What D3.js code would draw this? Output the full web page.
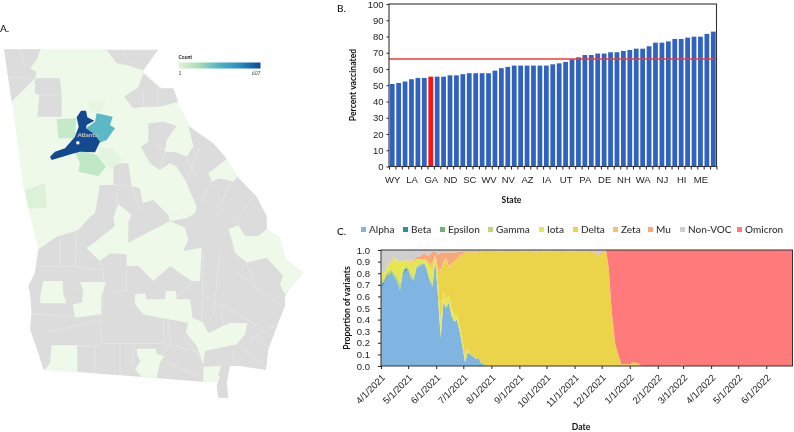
<!DOCTYPE html>
<html>
<head>
<meta charset="utf-8">
<script src="https://cdn.jsdelivr.net/npm/d3@7"></script>
<style>
  html, body { margin: 0; background: #fff; }
  svg { display: block; filter: blur(0.5px); font-family: Lato, "Open Sans", sans-serif; }
  .axis path { display: none; }
  .axis line { stroke: #222; stroke-width: 1; }
  .axis text { font-size: 9.5px; font-weight: 500; fill: #222; }
  .title { font-size: 8.6px; font-weight: 700; fill: #111; text-anchor: middle; }
  .panel { font-size: 10px; font-weight: 500; fill: #111; }
</style>
</head>
<body>
<div id="chart"></div>
<script>
// Panel A: county shapes, in a 960x1296 map grid
const stateOutline = [[12,148],[474,148],[430,215],[530,300],[570,378],[675,470],[712,530],[770,590],[800,648],[800,688],[840,713],[855,778],[910,818],[870,863],[855,888],[855,918],[835,968],[805,1048],[798,1110],[720,1098],[690,1098],[680,1148],[685,1193],[655,1193],[650,1158],[660,1128],[610,1145],[130,1108],[118,1068],[90,988],[95,938],[90,878],[85,858],[105,818],[115,748],[90,648],[70,560],[35,300]];
const noDataCounties = [
  [[12,148],[122,148],[110,180],[90,205],[110,215],[105,235],[35,305]],
  [[105,235],[180,235],[185,290],[185,350],[112,350],[118,285],[105,280]],
  [[320,150],[474,150],[430,210],[410,205],[380,195],[350,190]],
  [[430,220],[480,265],[520,265],[535,305],[480,320],[430,320],[400,325],[372,290],[415,262]],
  [[115,748],[170,710],[235,690],[270,650],[285,640],[300,555],[340,555],[340,490],[385,490],[395,558],[420,565],[428,610],[460,600],[505,645],[585,640],[590,620],[555,540],[530,500],[510,490],[480,510],[450,490],[422,440],[445,425],[445,370],[490,365],[530,378],[500,420],[495,455],[525,455],[560,470],[580,440],[565,378],[640,430],[675,470],[712,530],[770,590],[800,648],[800,688],[840,713],[855,778],[910,818],[870,863],[855,888],[855,918],[835,968],[805,1048],[798,1110],[720,1098],[690,1098],[680,1148],[685,1193],[655,1193],[650,1158],[660,1128],[610,1145],[130,1108],[118,1068],[90,988],[95,938],[90,878],[85,858],[105,818]]
];
const lowCountCounties = [
  [[625,520],[680,478],[712,530],[700,545],[660,535],[635,545]],
  [[505,420],[530,380],[565,380],[580,440],[560,462],[525,455],[495,450]],
  [[505,645],[585,640],[560,655],[530,660],[510,663]],
  [[258,743],[270,738],[345,678],[340,655],[355,612],[395,645],[385,665],[385,728],[510,663],[555,683],[565,718],[550,753],[605,743],[600,843],[575,843],[510,798],[460,843],[415,798],[380,798],[380,763],[330,760],[300,783]],
  [[685,688],[715,676],[735,708],[775,708],[800,688],[840,713],[855,778],[910,818],[870,863],[855,883],[840,853],[850,828],[800,773],[740,788],[705,758],[695,718]],
  [[130,843],[188,843],[190,883],[200,910],[120,910],[122,878]],
  [[240,846],[318,846],[305,883],[303,943],[225,953],[218,913],[245,908],[250,873]],
  [[405,883],[435,880],[440,898],[495,898],[498,873],[528,873],[530,898],[570,898],[578,953],[610,968],[625,1000],[690,968],[742,970],[735,1003],[710,1033],[615,1053],[610,1093],[590,1038],[558,998],[565,968],[480,953],[430,943],[405,913]],
  [[410,1046],[468,1046],[470,1063],[493,1068],[480,1088],[470,1133],[428,1133],[405,1108],[422,1083],[412,1068]],
  [[155,1036],[232,1036],[232,1118],[135,1110],[150,1088]],
  [[610,1100],[663,1098],[650,1146],[610,1145]]
];
const countyCounts = [
  { count: 14, shape: [[262,302],[315,300],[305,335],[270,340]] },
  { count: 50, shape: [[170,358],[230,355],[225,390],[235,415],[175,415]] },
  { count: 18, shape: [[300,440],[335,445],[365,475],[360,490],[330,505],[295,470]] },
  { count: 55, shape: [[225,458],[255,455],[290,465],[318,500],[295,528],[235,515],[240,490]] },
  { count: 28, shape: [[75,570],[135,550],[140,625],[85,625]] },
  { count: 260, shape: [[290,340],[338,350],[330,375],[345,385],[320,420],[295,430],[280,400],[258,385],[285,365]] },
  { count: 607, shape: [[243,332],[258,332],[262,352],[283,362],[260,375],[258,385],[280,400],[300,425],[285,457],[240,455],[215,462],[155,480],[150,470],[165,455],[195,445],[225,410],[236,380],[230,352]] }
];
const countyLines = [
  [[30,232],[105,235]], [[60,148],[75,205]], [[118,285],[185,285]], [[430,262],[430,320]], [[475,265],[475,320]],
  [[370,150],[395,205]], [[455,425],[500,455]], [[495,455],[480,510]], [[560,470],[590,530]], [[600,440],[560,540]],
  [[640,530],[600,610]], [[690,545],[650,650]], [[760,590],[700,670]], [[340,555],[395,558]], [[355,560],[345,640]],
  [[420,630],[395,560]], [[180,712],[180,800]], [[105,800],[180,800],[225,800],[310,810]], [[230,690],[225,800]],
  [[270,730],[310,810]], [[310,810],[310,920],[300,950]], [[380,798],[380,870],[340,880]], [[225,870],[250,870]],
  [[95,940],[225,950]], [[130,1000],[300,960],[305,1030]], [[305,1030],[490,1030]], [[230,1036],[300,1040]],
  [[285,1040],[285,1118]], [[360,1030],[360,1125]], [[405,1030],[395,1100]], [[460,1100],[510,1030],[505,960]],
  [[490,960],[490,1030],[610,1060]], [[555,1010],[610,1090]], [[505,1090],[605,1130]], [[610,760],[605,990]],
  [[660,750],[640,950]], [[600,880],[780,980]], [[665,920],[670,980]], [[700,810],[850,920]], [[740,790],[780,890]],
  [[700,1050],[700,1095]], [[745,1000],[810,1045]], [[720,1040],[800,1105]], [[835,970],[750,1020]], [[590,840],[530,890]]
];
const legendCounts = [1, 607];
const gradientStops = ['#e0f3db', '#a8ddb5', '#4eb3c9', '#2b8cbe', '#0a4a97'];

// Panel B: states ordered by percent vaccinated
const stateTickLabels = ['WY','LA','GA','ND','SC','WV','NV','AZ','IA','UT','PA','DE','NH','WA','NJ','HI','ME'];
const percentVaccinated = [50.8,51.4,52.3,53.7,54.5,54.5,55.3,55.3,55.3,56.1,56.1,56.8,57.4,57.4,57.4,57.4,59,60.5,61.3,62.1,62.1,62.1,62.1,62.1,62.1,62.9,63.5,64.3,66,67.2,68.6,68.6,69.5,69.5,70.3,70.3,71.1,71.7,72.5,72.5,74,76.2,76.2,77,78.5,78.5,79.3,79.9,79.9,81.6,83];
const georgiaIndex = 6;
const nationalPercent = 66.2;

// Panel C: variant proportions, sampled by days since 4/1/2021
const variantNames = ['Alpha','Beta','Epsilon','Gamma','Iota','Delta','Zeta','Mu','Non-VOC','Omicron'];
const variantColors = ['#7fb5e0','#2f8f9f','#6fb26f','#b9d67a','#e6e650','#ebd34a','#f7c177','#f7a878','#cfcfcf','#ff7b7b'];
const sampleDays = [0,3,6,9,12,15,18,21,24,27,30,33,36,39,42,45,48,51,54,57,60,63,66,69,72,75,78,81,84,87,90,93,96,99,102,105,108,111,114,117,130,145,160,170,180,195,210,225,235,241,244,247,249,252,255,259,262,266,270,274,279,285,288,330,333,336,455];
const alpha = [.68,.70,.76,.78,.80,.76,.72,.65,.78,.82,.83,.76,.72,.84,.86,.87,.885,.82,.72,.68,.92,.60,.24,.55,.50,.55,.42,.38,.40,.30,.17,.03,.12,.10,.08,.06,.07,.02,.015];
const beta = [.01,.02,.01,0,.01,0,0,0,.01,.02,0,0,.01,0,0,0,0,0,.01,0,0,0,0,0,0,0,.01];
const epsilon = [.01,.01,.01,.01,0,.01,.01,.01,.01,0,.01,.01];
const gamma = [.03,.02,.02,.03,.02,.03,.04,.05,.03,.02,.02,.03,.03,.02,.02,.01,.01,.02,.02,.03,0,.02,.02,.01,.01,.01,.01,.01];
const iota = [.11,.04,.04,.07,.06,.14,.13,.19,.07,.06,.03,.11,.14,.06,.04,.03,.02,.05,.10,.12,.02,.10,.10,.08,.06,.05,.06,.05,.05,.04,.05,.05,.03];
const delta = [0,0,0,0,0,0,0,0,0,0,0,0,0,0,0,.01,.01,.02,.03,.05,.02,.10,.46,.25,.35,.24,.37,.46,.47,.62,.74,.90,.84,.88,.90,.92,.91,.97,.975,.985,.99,.985,.99,.98,.99,.985,.99,.985,.98,.95,.975,.99,.995,.83,.48,.19,.11,.01,.02,.01,.035,.02,0,0,.012,0,0];
const zeta = [0,0,0,0,.01,0,.01,0,0,0,0,.01,0,0,0,0,0,0,0,.01,0,.02,.01,.01,.01,.01,.01];
const mu = [0,0,0,0,0,0,0,0,0,.01,0,0,.01,.02,.02,.04,.05,.04,.08,.10,.03,.12,.15,.08,.05,.12,.10,.08,.06,.03,.03,.01,.005,.01,.01,.01,.01,.005,.005,.01,.005,.005,.005,.005,.005,.005,.005,.005,.01,.01,.015,.005];
const nonVoc = [.16,.21,.16,.11,.10,.06,.09,.10,.10,.07,.11,.08,.09,.06,.06,.04,.025,.05,.04,.01,.01,.04,.02,.02,.02,.02,.02,.02,.02,.01,.01,.01,.005,.01,.01,.01,.01,.005,.005,.005,.005,.01,.005,.015,.005,.01,.005,.01,.01,.04,.01,.005];
const omicron = [0,0,0,0,0,0,0,0,0,0,0,0,0,0,0,0,0,0,0,0,0,0,0,0,0,0,0,0,0,0,0,0,0,0,0,0,0,0,0,0,0,0,0,0,0,0,0,0,0,0,0,0,.005,.17,.52,.81,.89,.99,.98,.99,.965,.98,1,1,.988,1,1];
const variantValues = [alpha, beta, epsilon, gamma, iota, delta, zeta, mu, nonVoc, omicron];
const monthTicks = ['2021-04-01','2021-05-01','2021-06-01','2021-07-01','2021-08-01','2021-09-01','2021-10-01','2021-11-01','2021-12-01','2022-01-01','2022-02-01','2022-03-01','2022-04-01','2022-05-01','2022-06-01'];
const lastDay = '2022-06-30';

const svg = d3.select('#chart').append('svg').attr('width', 794).attr('height', 432);
const defs = svg.append('defs');

/* ---- A. map ---- */
const mapX = d3.scaleLinear().domain([0, 960]).range([0, 320]);
const mapY = d3.scaleLinear().domain([0, 1296]).range([0, 432]);
const mapLine = d3.line().x(d => mapX(d[0])).y(d => mapY(d[1])).curve(d3.curveLinearClosed);
const openLine = d3.line().x(d => mapX(d[0])).y(d => mapY(d[1]));
const countColour = d3.scaleLinear().domain([1, 28, 55, 260, 607])
  .range(['#eff9e9', '#dcf2d8', '#bfe8c6', '#5ab9c5', '#14488f']);

// county borders only show on the grey counties
defs.append('clipPath').attr('id', 'noDataClip')
  .selectAll('path').data(noDataCounties).enter().append('path').attr('d', mapLine);

const map = svg.append('g').attr('class', 'map');
map.append('path').attr('d', mapLine(stateOutline)).attr('fill', '#eff9e9');
map.selectAll('.nodata').data(noDataCounties).enter().append('path')
  .attr('class', 'nodata').attr('d', mapLine).attr('fill', '#dcdcdc');
map.append('g').attr('clip-path', 'url(#noDataClip)')
  .selectAll('path').data(countyLines).enter().append('path')
  .attr('d', openLine).attr('fill', 'none').attr('stroke', '#e8e8e8').attr('stroke-width', 0.7);
map.selectAll('.low').data(lowCountCounties).enter().append('path')
  .attr('class', 'low').attr('d', mapLine).attr('fill', '#eff9e9');
map.selectAll('.county').data(countyCounts).enter().append('path')
  .attr('class', 'county').attr('d', d => mapLine(d.shape)).attr('fill', d => countColour(d.count));

map.append('text').attr('x', mapX(263)).attr('y', mapY(412)).attr('text-anchor', 'middle')
  .attr('font-size', 6.5).attr('fill', '#fff').attr('stroke', '#8a8a8a').attr('stroke-width', 0.25).text('Atlanta');
map.append('rect').attr('x', mapX(229)).attr('y', mapY(424)).attr('width', 3).attr('height', 3).attr('fill', '#fff');

// colour legend
const grad = defs.append('linearGradient').attr('id', 'countGrad');
grad.selectAll('stop').data(gradientStops).enter().append('stop')
  .attr('offset', (d, i) => i / (gradientStops.length - 1)).attr('stop-color', d => d);
const legendX = d3.scaleLinear().domain(legendCounts).range([178.5, 260.5]);
svg.append('text').attr('x', 178.5).attr('y', 59).attr('font-size', 5).attr('font-weight', 700).attr('fill', '#222').text('Count');
svg.append('rect').attr('x', legendX(1)).attr('y', 62.5).attr('width', legendX(607) - legendX(1)).attr('height', 6).attr('fill', 'url(#countGrad)');
svg.selectAll('.legend-count').data(legendCounts).enter().append('text')
  .attr('class', 'legend-count')
  .attr('x', d => legendX(d)).attr('y', 75).attr('font-size', 5).attr('fill', '#444')
  .attr('text-anchor', (d, i) => i ? 'end' : 'start').text(d => d);

svg.append('text').attr('class', 'panel').attr('x', 0).attr('y', 32).text('A.');
svg.append('text').attr('class', 'panel').attr('x', 337).attr('y', 12).text('B.');
svg.append('text').attr('class', 'panel').attr('x', 337).attr('y', 235).text('C.');

/* ---- B. bars ---- */
const bBox = { left: 389, right: 716.5, top: 4, bottom: 166.5 };
const barY = d3.scaleLinear().domain([0, 100]).range([bBox.bottom, bBox.top]);
const barPos = d3.scaleLinear().domain([0, percentVaccinated.length]).range([bBox.left, bBox.right]);
const barW = (barPos(1) - barPos(0)) * 0.74;

const bars = svg.append('g').attr('class', 'bars');
bars.selectAll('rect').data(percentVaccinated).enter().append('rect')
  .attr('x', (d, i) => barPos(i + 0.5) - barW / 2)
  .attr('y', d => barY(d))
  .attr('width', barW)
  .attr('height', d => barY(0) - barY(d))
  .attr('fill', (d, i) => i === georgiaIndex ? '#fb1414' : '#2f63bf');

svg.append('line').attr('x1', bBox.left).attr('x2', bBox.right)
  .attr('y1', barY(nationalPercent)).attr('y2', barY(nationalPercent))
  .attr('stroke', '#f0383c').attr('stroke-width', 1.5);

svg.append('g').attr('class', 'axis').attr('transform', `translate(${bBox.left},0)`)
  .call(d3.axisLeft(barY).tickValues(d3.range(0, 101, 10)).tickSize(2.5).tickPadding(3));
svg.append('g').attr('class', 'axis').attr('transform', `translate(0,${bBox.bottom})`)
  .call(d3.axisBottom(barPos).tickValues(d3.range(0, percentVaccinated.length + 1)).tickSize(3).tickFormat(''));
svg.append('g').attr('class', 'axis').attr('transform', `translate(0,${bBox.bottom + 9.5})`)
  .call(d3.axisBottom(barPos).tickValues(stateTickLabels.map((s, i) => i * 3 + 0.5)).tickSize(0).tickPadding(0)
    .tickFormat((d, i) => stateTickLabels[i]));
svg.append('rect').attr('x', bBox.left).attr('y', bBox.top)
  .attr('width', bBox.right - bBox.left).attr('height', bBox.bottom - bBox.top)
  .attr('fill', 'none').attr('stroke', '#333').attr('stroke-width', 1.1);
svg.append('text').attr('class', 'title').attr('transform', `translate(356,85) rotate(-90)`).text('Percent vaccinated');
svg.append('text').attr('class', 'title').attr('x', 511.5).attr('y', 203).text('State');

/* ---- C. stacked variants ---- */
const cBox = { left: 381, right: 792.5, top: 250, bottom: 366 };
const startDate = new Date(Date.UTC(2021, 3, 1));
const parseDay = d3.utcParse('%Y-%m-%d');
const dateX = d3.scaleUtc().domain([startDate, parseDay(lastDay)]).range([cBox.left, cBox.right]);
const propY = d3.scaleLinear().domain([0, 1]).range([cBox.bottom, cBox.top]);

const rows = sampleDays.map((day, i) => {
  const row = { date: d3.utcDay.offset(startDate, day) };
  variantNames.forEach((name, v) => { row[name] = variantValues[v][i] || 0; });
  return row;
});
const layers = d3.stack().keys(variantNames).offset(d3.stackOffsetExpand)(rows);
const area = d3.area().x(d => dateX(d.data.date)).y0(d => propY(d[0])).y1(d => propY(d[1]));

svg.append('g').attr('class', 'layers').selectAll('path').data(layers).enter().append('path')
  .attr('d', area).attr('fill', (d, i) => variantColors[i]);

svg.append('g').attr('class', 'axis').attr('transform', `translate(${cBox.left},0)`)
  .call(d3.axisLeft(propY).tickValues(d3.range(0, 11).map(d => d / 10)).tickSize(3).tickPadding(8).tickFormat(d3.format('.1f')));
const fmtDate = d3.utcFormat('%-m/%-d/%Y');
const dateAxis = svg.append('g').attr('class', 'axis').attr('transform', `translate(0,${cBox.bottom})`)
  .call(d3.axisBottom(dateX).tickValues(monthTicks.map(parseDay)).tickSize(3).tickFormat(fmtDate));
dateAxis.selectAll('text').attr('text-anchor', 'end')
  .attr('transform', 'translate(2,10) rotate(-45)').attr('dy', '0.35em').attr('y', 0).attr('x', 0);
svg.append('rect').attr('x', cBox.left).attr('y', cBox.top)
  .attr('width', cBox.right - cBox.left).attr('height', cBox.bottom - cBox.top)
  .attr('fill', 'none').attr('stroke', '#333').attr('stroke-width', 1);
svg.append('text').attr('class', 'title').attr('transform', `translate(350,308) rotate(-90)`).text('Proportion of variants');
svg.append('text').attr('class', 'title').attr('x', 581).attr('y', 430).text('Date');

const legendSwatchX = [361, 403, 440, 488, 539, 573, 613, 648, 680, 737];
const legend = svg.append('g').attr('class', 'variant-legend');
legend.selectAll('rect').data(variantNames).enter().append('rect')
  .attr('x', (d, i) => legendSwatchX[i]).attr('y', 227).attr('width', 5).attr('height', 5)
  .attr('fill', (d, i) => variantColors[i]);
legend.selectAll('text').data(variantNames).enter().append('text')
  .attr('x', (d, i) => legendSwatchX[i] + 8).attr('y', 233)
  .attr('font-size', 10).attr('font-weight', 500).attr('fill', '#333').text(d => d);
</script>
</body>
</html>
